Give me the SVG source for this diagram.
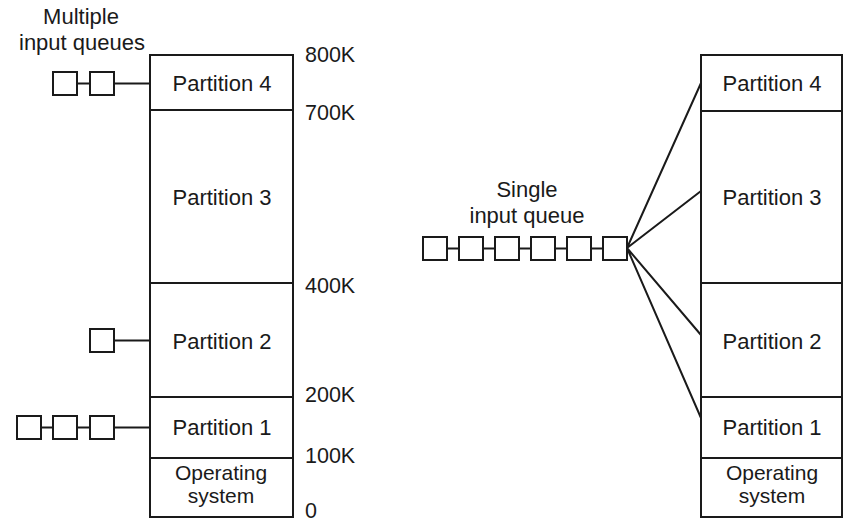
<svg xmlns="http://www.w3.org/2000/svg" width="844" height="522" viewBox="0 0 844 522">
  <style>
    .mem { fill: #fff; stroke: #1a1a1a; stroke-width: 2; }
    .div { stroke: #1a1a1a; stroke-width: 2.2; fill: none; }
    .q { fill: #fff; stroke: #1a1a1a; stroke-width: 2; }
    .wire { stroke: #1a1a1a; stroke-width: 2; fill: none; }
    text { font-family: "Liberation Sans", Arial, sans-serif; fill: #1a1a1a; }
    .lbl { font-size: 22px; text-anchor: middle; }
    .os { font-size: 21px; text-anchor: middle; }
    .addr { font-size: 21.5px; }
  </style>
  <defs>
    <rect id="slot" class="q" width="24" height="23"/>
  </defs>
  <rect width="844" height="522" fill="#fff"/>

  <!-- Left: memory with fixed partitions, one queue per partition -->
  <g id="left-memory">
    <rect class="mem" x="150" y="55" width="143" height="462"/>
    <line class="div" x1="150" y1="110" x2="293" y2="110"/>
    <line class="div" x1="150" y1="283" x2="293" y2="283"/>
    <line class="div" x1="150" y1="397" x2="293" y2="397"/>
    <line class="div" x1="150" y1="458" x2="293" y2="458"/>
  </g>
  <g id="left-p4"><text class="lbl" x="222" y="91">Partition 4</text></g>
  <g id="left-p3"><text class="lbl" x="222" y="205">Partition 3</text></g>
  <g id="left-p2"><text class="lbl" x="222" y="349">Partition 2</text></g>
  <g id="left-p1"><text class="lbl" x="222" y="435">Partition 1</text></g>
  <g id="left-os">
    <text class="os" x="221" y="480">Operating</text>
    <text class="os" x="221" y="503">system</text>
  </g>

  <g id="addresses">
    <text class="addr" x="305" y="62">800K</text>
    <text class="addr" x="305" y="120">700K</text>
    <text class="addr" x="305" y="293">400K</text>
    <text class="addr" x="305" y="402">200K</text>
    <text class="addr" x="305" y="463">100K</text>
    <text class="addr" x="305" y="518">0</text>
  </g>

  <g id="multi-label">
    <text class="lbl" x="81" y="24">Multiple</text>
    <text class="lbl" x="82" y="50">input queues</text>
  </g>

  <g id="queue-p4">
    <use href="#slot" x="53" y="72"/>
    <use href="#slot" x="90" y="72"/>
  </g>
  <g id="queue-p2">
    <use href="#slot" x="90" y="329"/>
  </g>
  <g id="queue-p1">
    <use href="#slot" x="17" y="416"/>
    <use href="#slot" x="53" y="416"/>
    <use href="#slot" x="90" y="416"/>
  </g>

  <!-- Right: same memory, one shared queue -->
  <g id="right-memory">
    <rect class="mem" x="701" y="55" width="141" height="462"/>
    <line class="div" x1="701" y1="111" x2="842" y2="111"/>
    <line class="div" x1="701" y1="283" x2="842" y2="283"/>
    <line class="div" x1="701" y1="397" x2="842" y2="397"/>
    <line class="div" x1="701" y1="458" x2="842" y2="458"/>
  </g>
  <g id="right-p4"><text class="lbl" x="772" y="91">Partition 4</text></g>
  <g id="right-p3"><text class="lbl" x="772" y="205">Partition 3</text></g>
  <g id="right-p2"><text class="lbl" x="772" y="349">Partition 2</text></g>
  <g id="right-p1"><text class="lbl" x="772" y="435">Partition 1</text></g>
  <g id="right-os">
    <text class="os" x="772" y="480">Operating</text>
    <text class="os" x="772" y="503">system</text>
  </g>

  <g id="single-label">
    <text class="lbl" x="527" y="197">Single</text>
    <text class="lbl" x="527" y="223">input queue</text>
  </g>

  <g id="single-queue">
    <use href="#slot" x="423" y="237"/>
    <use href="#slot" x="459" y="237"/>
    <use href="#slot" x="495" y="237"/>
    <use href="#slot" x="531" y="237"/>
    <use href="#slot" x="567" y="237"/>
    <use href="#slot" x="603" y="237"/>
  </g>

  <g id="connectors">
    <!-- left queues -->
    <path class="wire" d="M77 83.5H90M114 83.5H150"/>
    <path class="wire" d="M114 340.5H150"/>
    <path class="wire" d="M41 427.5H53M77 427.5H90M114 427.5H150"/>
    <!-- shared queue links -->
    <path class="wire" d="M447 248.5H459M483 248.5H495M519 248.5H531M555 248.5H567M591 248.5H603"/>
    <path class="wire" d="M627 248L701 83M627 248L701 191M627 248L701 335M627 248L701 418"/>
  </g>
</svg>
